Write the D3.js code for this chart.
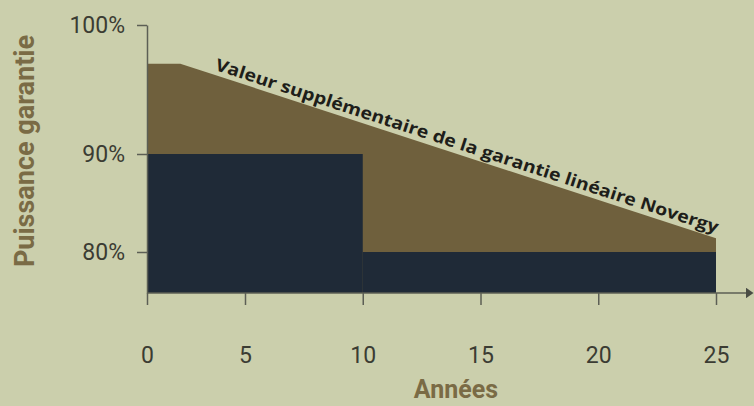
<!DOCTYPE html>
<html>
<head>
<meta charset="utf-8">
<script src="https://cdn.jsdelivr.net/npm/d3@7"></script>
<style>
  html, body { margin: 0; padding: 0; background: #cbcfac; }
  svg { display: block; }
</style>
</head>
<body>
<svg width="754" height="406"></svg>
<script>
let WIDTH  = 754,
    HEIGHT = 406;

// guaranteed power, Novergy linear warranty (upper profile)
let novergyYears  = [0, 1.7, 25];
let novergyValues = [97, 97, 81.4];

// standard step warranty
let stepStart  = [0, 10];
let stepEnd    = [10, 25];
let stepValues = [90, 80];

let xTicks = [0, 5, 10, 15, 20, 25];
let yTicks = [80, 90, 100];
let yMin   = 75.8;

let BROWN = "#6f603d",
    NAVY  = "#1f2a37",
    LABEL = "#7a6b45";

let svg = d3.select("svg");

// the infographic is not drawn to a linear scale, so piecewise scales
let x = d3.scaleLinear()
          .domain([0, 5, 25])
          .range([147, 245, 716]);

let y = d3.scaleLinear()
          .domain([yMin, 80, 90, 100])
          .range([293, 252, 154, 25]);

// brown area : Novergy guarantee
let area = d3.area()
             .x(function (d) { return x(d[0]); })
             .y0(y(yMin))
             .y1(function (d) { return y(d[1]); });

svg.append("path")
   .datum(d3.zip(novergyYears, novergyValues))
   .attr("d", area)
   .attr("fill", BROWN);

// navy blocks : standard guarantee
svg.selectAll("rect.step")
   .data(d3.range(stepValues.length))
   .enter()
   .append("rect")
   .attr("class", "step")
   .attr("x", function (i) { return x(stepStart[i]); })
   .attr("width", function (i) { return x(stepEnd[i]) - x(stepStart[i]); })
   .attr("y", function (i) { return y(stepValues[i]); })
   .attr("height", function (i) { return y(yMin) - y(stepValues[i]); })
   .attr("fill", NAVY);

// y axis
let yAxis = svg.append("g")
               .attr("transform", "translate(" + x(0) + ",0)")
               .call(d3.axisLeft(y)
                       .tickValues(yTicks)
                       .tickFormat(function (d) { return d + "%"; })
                       .tickSize(10)
                       .tickSizeOuter(0)
                       .tickPadding(12));

yAxis.select(".domain").attr("stroke", "#5c5f55").attr("stroke-width", 1.5);
yAxis.selectAll(".tick line").attr("stroke", "#5c5f55").attr("stroke-width", 1.5);
yAxis.selectAll("text")
     .attr("fill", "#3b3c33")
     .style("font", "23px Roboto");

// x axis
let xAxis = svg.append("g")
               .attr("transform", "translate(0," + y(yMin) + ")")
               .call(d3.axisBottom(x)
                       .tickValues(xTicks)
                       .tickSize(12)
                       .tickSizeOuter(0)
                       .tickPadding(42));

xAxis.select(".domain").remove();
xAxis.selectAll(".tick line").attr("stroke", "#5c5f55").attr("stroke-width", 1.5);
xAxis.selectAll("text")
     .attr("fill", "#3b3c33")
     .style("font", "23px Roboto");

// axis line with arrow
svg.append("defs")
   .append("marker")
   .attr("id", "arrow")
   .attr("viewBox", "0 0 10 10")
   .attr("refX", 0)
   .attr("refY", 5)
   .attr("markerWidth", 5)
   .attr("markerHeight", 7)
   .attr("orient", "auto")
   .attr("markerUnits", "strokeWidth")
   .attr("preserveAspectRatio", "none")
   .append("path")
   .attr("d", "M0,0L10,5L0,10Z")
   .attr("fill", "#4a4d45");

svg.append("line")
   .attr("x1", x(0))
   .attr("x2", 746)
   .attr("y1", y(yMin))
   .attr("y2", y(yMin))
   .attr("stroke", "#5c5f55")
   .attr("stroke-width", 1.5)
   .attr("marker-end", "url(#arrow)");

// label along the slope
let p0 = [x(novergyYears[1]), y(novergyValues[1])],
    p1 = [x(novergyYears[2]), y(novergyValues[2])];
let angle = Math.atan2(p1[1] - p0[1], p1[0] - p0[0]) * 180 / Math.PI;

svg.append("text")
   .attr("transform", "translate(" + (p0[0] + 34) + "," + (p0[1] + 6) + ") rotate(" + angle + ")")
   .attr("fill", "#1e1e1a")
   .attr("textLength", 528)
   .attr("lengthAdjust", "spacingAndGlyphs")
   .style("font", "bold 17px 'Open Sans'")
   .text("Valeur supplémentaire de la garantie linéaire Novergy");

// axis titles
svg.append("text")
   .attr("transform", "translate(34,151) rotate(-90)")
   .attr("text-anchor", "middle")
   .attr("fill", LABEL)
   .style("font", "bold 27px Roboto")
   .text("Puissance garantie");

svg.append("text")
   .attr("x", 456)
   .attr("y", 398)
   .attr("text-anchor", "middle")
   .attr("fill", LABEL)
   .style("font", "bold 25px Roboto")
   .text("Années");
</script>
</body>
</html>
